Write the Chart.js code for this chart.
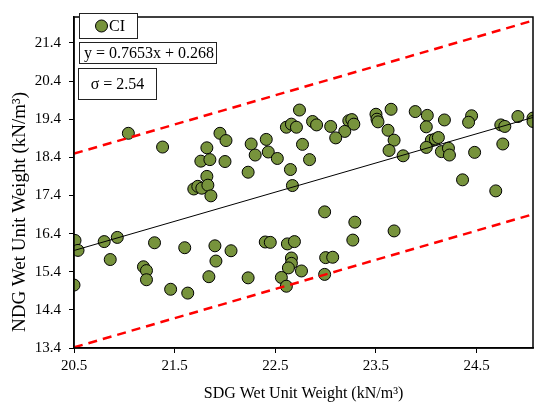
<!DOCTYPE html>
<html>
<head>
<meta charset="utf-8">
<script src="https://cdn.jsdelivr.net/npm/chart.js@4/dist/chart.umd.min.js"></script>
<style>
  html, body { margin: 0; padding: 0; background: #fff; }
  #wrap { width: 540px; height: 403px; position: relative; }
</style>
</head>
<body>
<div id="wrap"><canvas id="chart"></canvas></div>
<script>
// Données (SDG vs NDG, kN/m³)
const sdgValues = [
  21.04, 21.38, 21.95, 22.01, 21.82, 21.76, 21.85, 22.00, 22.26, 22.30,
  22.41, 22.43, 22.52, 22.23, 21.82, 21.69, 21.73, 21.77, 21.83, 21.86,
  22.74, 22.61, 22.66, 22.71, 22.77, 22.65, 22.67, 22.84, 22.87, 22.91,
  23.05, 23.23, 23.26, 23.28, 23.19, 23.10, 23.50, 23.51, 23.52, 23.65,
  23.62, 23.68, 23.63, 23.77, 23.89, 24.01, 24.00, 24.18, 24.45, 24.42,
  24.91, 25.06, 25.06, 24.74, 24.78, 24.05, 24.09, 24.12, 24.00, 24.15,
  24.22, 24.23, 24.48, 24.76, 24.36, 24.69,
  20.51, 20.54, 20.50, 20.80, 20.93, 20.86, 21.19, 21.22, 21.22, 21.30,
  21.46, 21.63, 21.60, 21.90, 21.91, 22.06, 21.84, 22.23, 22.40, 22.45,
  22.62, 22.69, 22.99, 23.29, 23.68, 23.27, 22.66, 22.66, 22.63, 22.76,
  23.00, 23.07, 22.99, 22.56, 22.61
];
const ndgValues = [
  19.03, 18.67, 19.03, 18.84, 18.65, 18.30, 18.34, 18.29, 18.75, 18.46,
  18.87, 18.54, 18.37, 18.01, 17.90, 17.57, 17.64, 17.59, 17.67, 17.39,
  19.64, 19.19, 19.27, 19.19, 18.74, 18.08, 17.66, 18.34, 19.34, 19.25,
  19.21, 19.36, 19.39, 19.27, 19.08, 18.91, 19.53, 19.40, 19.33, 19.66,
  19.11, 18.85, 18.58, 18.44, 19.60, 19.50, 19.20, 19.38, 19.49, 19.32,
  19.47, 19.43, 19.34, 19.25, 19.21, 18.85, 18.88, 18.92, 18.66, 18.55,
  18.64, 18.46, 18.53, 18.75, 17.81, 17.52,
  16.22, 15.96, 15.05, 16.19, 16.30, 15.72, 15.53, 15.43, 15.19, 16.16,
  14.94, 14.84, 16.03, 16.08, 15.68, 15.95, 15.27, 15.24, 16.18, 16.17,
  16.13, 16.19, 16.97, 16.70, 16.47, 16.23, 15.76, 15.62, 15.50, 15.42,
  15.77, 15.78, 15.33, 15.25, 15.02
];

const fitSlope = 0.7653;
const fitIntercept = 0.268;
const sigma = 2.54;

const xRange = [20.5, 25.06];
const yRange = [13.4, 22.08];
const xTicks = [20.5, 21.5, 22.5, 23.5, 24.5];
const yTicks = [13.4, 14.4, 15.4, 16.4, 17.4, 18.4, 19.4, 20.4, 21.4];

const seriesLabel = 'CI';
const fitText = 'y = 0.7653x + 0.268';
const sigmaText = 'σ = 2.54';
const xTitle = 'SDG Wet Unit Weight (kN/m³)';
const yTitle = 'NDG Wet Unit Weight (kN/m³)';

const olive = '#77933C';
const serif = "'Liberation Serif', 'DejaVu Serif', serif";

const points = sdgValues.map((x, i) => ({ x: x, y: ndgValues[i] }));
const lineAt = (offset) => xRange.map(x => ({ x: x, y: fitSlope * x + fitIntercept + offset }));

// Cadre du graphique, titre vertical et encadrés de légende
const framePlugin = {
    id: 'frame',
    afterDraw(chart) {
        const { ctx, chartArea: a } = chart;
        ctx.save();
        ctx.strokeStyle = '#000';
        ctx.lineWidth = 1.5;
        ctx.strokeRect(a.left, a.top, a.right - a.left, a.bottom - a.top);

        // titre de l'axe Y (décalé vers le bas comme l'original)
        ctx.save();
        ctx.translate(20, 212);
        ctx.rotate(-Math.PI / 2);
        ctx.fillStyle = '#000';
        ctx.font = '19px ' + serif;
        ctx.textAlign = 'center';
        ctx.textBaseline = 'middle';
        ctx.fillText(yTitle, 0, 0);
        ctx.restore();

        ctx.lineWidth = 1;
        ctx.strokeStyle = '#222';
        ctx.fillStyle = '#fff';
        const boxes = [
            [79.5, 13.5, 58, 25],
            [79.5, 42.5, 137, 21],
            [78.5, 68.5, 78, 31]
        ];
        boxes.forEach(b => {
            ctx.fillRect(b[0], b[1], b[2], b[3]);
            ctx.strokeRect(b[0], b[1], b[2], b[3]);
        });

        // marqueur de la série
        ctx.beginPath();
        ctx.arc(101.5, 26, 6, 0, Math.PI * 2);
        ctx.fillStyle = olive;
        ctx.fill();
        ctx.strokeStyle = '#000';
        ctx.stroke();

        ctx.fillStyle = '#000';
        ctx.font = '16px ' + serif;
        ctx.textBaseline = 'middle';
        ctx.textAlign = 'left';
        ctx.fillText(seriesLabel, 109, 26.5);
        ctx.fillText(fitText, 84, 53.5);
        ctx.textAlign = 'center';
        ctx.fillText(sigmaText, 117.5, 85);
        ctx.restore();
    }
};

new Chart(document.getElementById('chart').getContext('2d'), {
    type: 'scatter',
    data: {
        datasets: [
            {
                type: 'line',
                data: lineAt(0),
                borderColor: '#000',
                borderWidth: 1,
                pointRadius: 0,
                fill: false,
                order: 0
            },
            {
                type: 'line',
                data: lineAt(sigma),
                borderColor: '#FF0000',
                borderWidth: 2.5,
                borderDash: [9, 6],
                pointRadius: 0,
                fill: false,
                order: 0
            },
            {
                type: 'line',
                data: lineAt(-sigma),
                borderColor: '#FF0000',
                borderWidth: 2.5,
                borderDash: [9, 6],
                pointRadius: 0,
                fill: false,
                order: 0
            },
            {
                label: seriesLabel,
                data: points,
                backgroundColor: olive,
                borderColor: '#000',
                borderWidth: 1,
                pointRadius: 6,
                order: 1
            }
        ]
    },
    options: {
        responsive: true,
        maintainAspectRatio: false,
        animation: false,
        layout: { padding: { top: 8, right: 2, left: 0, bottom: 0 } },
        plugins: {
            legend: { display: false },
            tooltip: { enabled: false }
        },
        scales: {
            x: {
                type: 'linear',
                min: xRange[0],
                max: xRange[1],
                afterBuildTicks: (scale) => { scale.ticks = xTicks.map(v => ({ value: v })); },
                afterFit: (scale) => { scale.height = 55; },
                border: { display: true, color: '#000', width: 1.5 },
                grid: { drawOnChartArea: false, drawTicks: true, tickLength: 5, color: '#000' },
                ticks: {
                    color: '#000',
                    padding: 4,
                    maxRotation: 0,
                    font: { family: serif, size: 15 },
                    callback: (v) => Number(v).toFixed(1)
                },
                title: {
                    display: true,
                    text: xTitle,
                    color: '#000',
                    font: { family: serif, size: 16 },
                    padding: { top: 1, bottom: 0 }
                }
            },
            y: {
                type: 'linear',
                min: yRange[0],
                max: yRange[1],
                afterBuildTicks: (scale) => { scale.ticks = yTicks.map(v => ({ value: v })); },
                afterFit: (scale) => { scale.width = 74; },
                border: { display: true, color: '#000', width: 1.5 },
                grid: { drawOnChartArea: false, drawTicks: true, tickLength: 5, color: '#000' },
                ticks: {
                    color: '#000',
                    padding: 8,
                    font: { family: serif, size: 15 },
                    callback: (v) => Number(v).toFixed(1)
                },
                title: { display: false }
            }
        }
    },
    plugins: [framePlugin]
});
</script>
</body>
</html>
